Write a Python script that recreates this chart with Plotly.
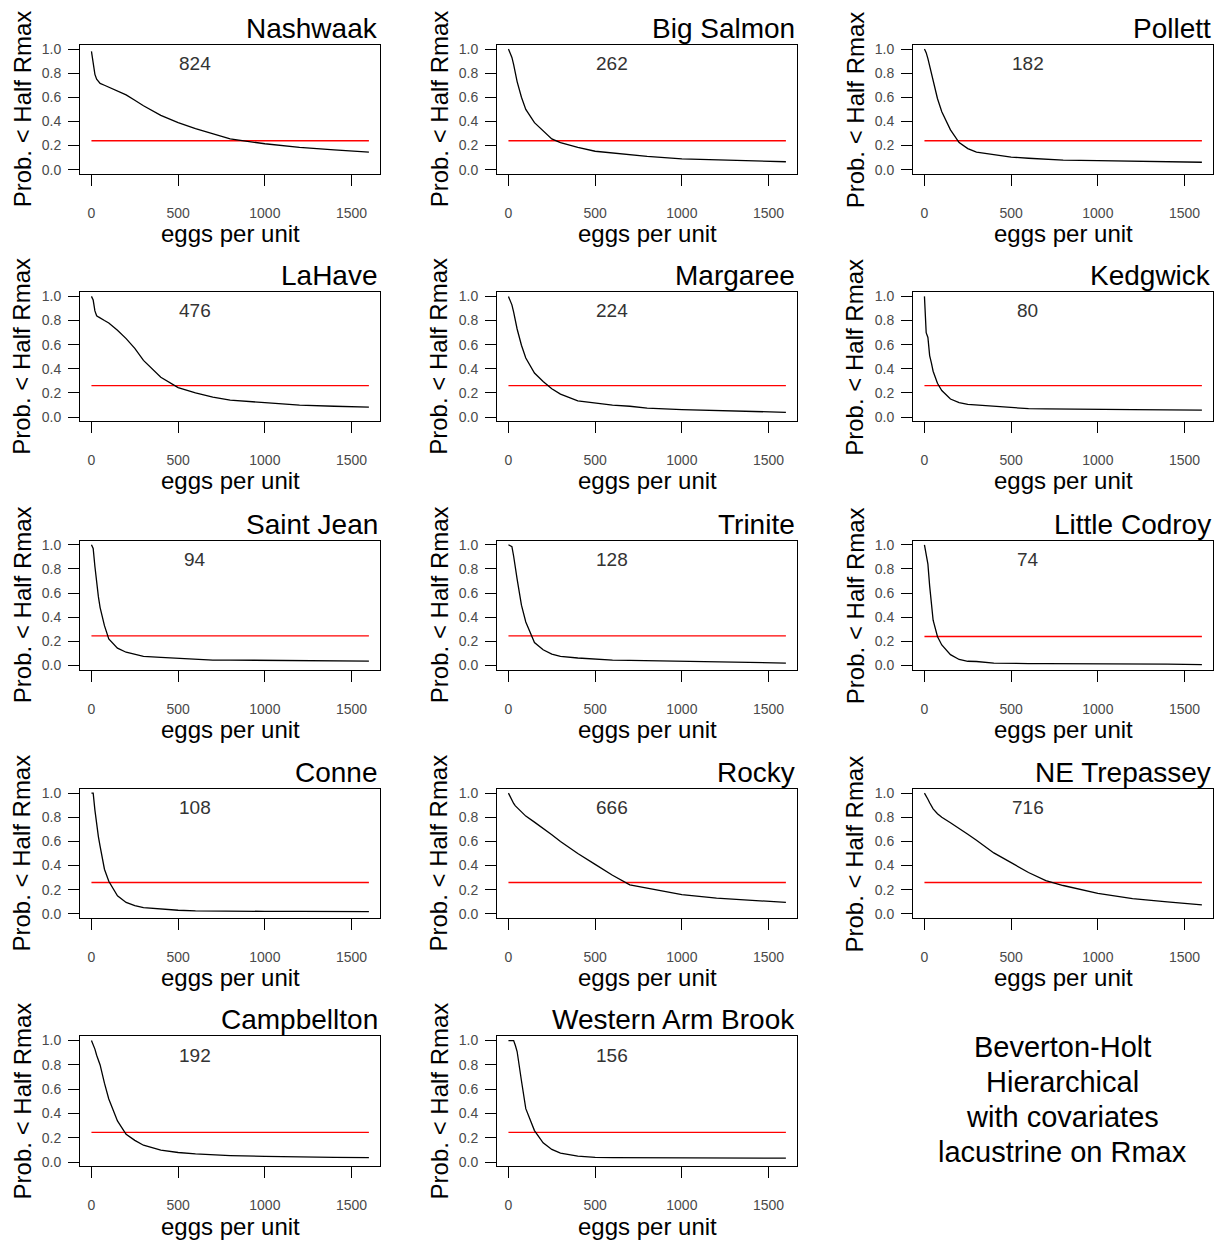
import plotly.graph_objects as go

# ---------------- data ----------------
rivers = ["Nashwaak", "Big Salmon", "Pollett", "LaHave", "Margaree", "Kedgwick",
          "Saint Jean", "Trinite", "Little Codroy", "Conne", "Rocky", "NE Trepassey",
          "Campbellton", "Western Arm Brook"]

crossing_labels = ["824", "262", "182", "476", "224", "80", "94", "128", "74",
                   "108", "666", "716", "192", "156"]

ref_levels = [0.24, 0.24, 0.24, 0.26, 0.26, 0.26, 0.245, 0.245, 0.24,
              0.26, 0.26, 0.26, 0.245, 0.245]

eggs = [0, 10, 20, 30, 40, 50, 75, 100, 150, 200, 250, 300, 400, 500, 600,
        700, 800, 1000, 1200, 1400, 1600]

nashwaak = [0.98, 0.86, 0.79, 0.75, 0.73, 0.715, 0.70, 0.685, 0.655, 0.62, 0.575,
            0.53, 0.45, 0.39, 0.34, 0.30, 0.255, 0.215, 0.185, 0.165, 0.145]
big_salmon = [1.0, 0.97, 0.93, 0.87, 0.79, 0.73, 0.60, 0.50, 0.39, 0.32, 0.255,
              0.225, 0.185, 0.153, 0.137, 0.123, 0.11, 0.09, 0.08, 0.072, 0.066]
pollett = [1.0, 0.97, 0.92, 0.86, 0.80, 0.74, 0.59, 0.48, 0.33, 0.225, 0.175,
           0.145, 0.125, 0.105, 0.095, 0.085, 0.08, 0.075, 0.07, 0.067, 0.062]
lahave = [1.0, 0.97, 0.88, 0.84, 0.83, 0.82, 0.80, 0.78, 0.72, 0.65, 0.57,
          0.47, 0.33, 0.245, 0.20, 0.165, 0.14, 0.12, 0.10, 0.09, 0.082]
margaree = [1.0, 0.97, 0.93, 0.87, 0.79, 0.73, 0.595, 0.49, 0.365, 0.295, 0.235,
            0.19, 0.135, 0.115, 0.10, 0.09, 0.075, 0.062, 0.055, 0.045, 0.04]
kedgwick = [1.0, 0.70, 0.66, 0.51, 0.45, 0.38, 0.28, 0.22, 0.15, 0.12, 0.105,
            0.10, 0.095, 0.085, 0.07, 0.068, 0.068, 0.065, 0.062, 0.06, 0.058]
saint_jean = [1.0, 0.97, 0.82, 0.66, 0.57, 0.48, 0.33, 0.22, 0.144, 0.11, 0.09,
              0.076, 0.068, 0.062, 0.05, 0.045, 0.045, 0.042, 0.04, 0.038, 0.036]
trinite = [1.0, 0.99, 0.985, 0.905, 0.80, 0.715, 0.50, 0.36, 0.19, 0.13, 0.095,
           0.076, 0.062, 0.05, 0.044, 0.042, 0.04, 0.036, 0.033, 0.03, 0.02]
little_codroy = [1.0, 0.905, 0.84, 0.66, 0.525, 0.375, 0.24, 0.17, 0.09, 0.05, 0.035,
                 0.033, 0.02, 0.016, 0.016, 0.015, 0.015, 0.014, 0.013, 0.012, 0.008]
conne = [1.0, 1.0, 0.86, 0.72, 0.64, 0.56, 0.37, 0.27, 0.15, 0.095, 0.068,
         0.052, 0.04, 0.03, 0.025, 0.023, 0.022, 0.021, 0.02, 0.019, 0.018]
rocky = [1.0, 0.97, 0.94, 0.915, 0.895, 0.88, 0.845, 0.81, 0.76, 0.71, 0.655,
         0.60, 0.50, 0.41, 0.32, 0.24, 0.215, 0.16, 0.13, 0.11, 0.095]
ne_trepassey = [1.0, 0.98, 0.95, 0.92, 0.89, 0.87, 0.83, 0.80, 0.755, 0.71, 0.66,
                0.61, 0.505, 0.424, 0.343, 0.275, 0.235, 0.17, 0.127, 0.10, 0.075]
campbellton = [1.0, 0.97, 0.93, 0.88, 0.84, 0.80, 0.65, 0.52, 0.34, 0.23, 0.18,
               0.14, 0.10, 0.08, 0.068, 0.06, 0.055, 0.048, 0.042, 0.04, 0.038]
western_arm_brook = [1.0, 1.0, 1.0, 1.0, 0.96, 0.91, 0.67, 0.44, 0.26, 0.16, 0.105,
                     0.074, 0.05, 0.04, 0.038, 0.037, 0.036, 0.035, 0.034, 0.033, 0.033]

curves = [nashwaak, big_salmon, pollett, lahave, margaree, kedgwick, saint_jean,
          trinite, little_codroy, conne, rocky, ne_trepassey, campbellton,
          western_arm_brook]

x_ticks = [0, 500, 1000, 1500]
y_ticks = [0.0, 0.2, 0.4, 0.6, 0.8, 1.0]
y_tick_text = ["0.0", "0.2", "0.4", "0.6", "0.8", "1.0"]

footer_lines = ["Beverton-Holt", "Hierarchical", "with covariates", "lacustrine on Rmax"]

# ---------------- layout geometry (reference-image pixels) ----------------
PAGE_MARGIN = 8                      # default body margin of the html page
W = 1225 - 2 * PAGE_MARGIN
H = 1252 - 2 * PAGE_MARGIN
cols = [(80, 380), (497, 797), (913, 1213)]
rows = [(41, 171), (290, 420), (540, 670), (790, 920), (1039, 1170)]
FONT = "Arial, Liberation Sans, sans-serif"


def px(x):
    return (x - PAGE_MARGIN) / W


def py(y):
    return 1 - (y - PAGE_MARGIN) / H


fig = go.Figure()
layout = dict(
    width=W, height=H,
    margin=dict(l=0, r=0, t=0, b=0),
    paper_bgcolor="white", plot_bgcolor="white",
    showlegend=False,
    font=dict(family=FONT, color="black"),
)
annotations = []

for i, name in enumerate(rivers):
    r, c = divmod(i, 3)
    sfx = "" if i == 0 else str(i + 1)
    xa, ya = "x" + sfx, "y" + sfx
    x0, x1 = cols[c]
    y0, y1 = rows[r]

    fig.add_trace(go.Scatter(
        x=[eggs[0], eggs[-1]], y=[ref_levels[i], ref_levels[i]],
        xaxis=xa, yaxis=ya, mode="lines",
        line=dict(color="#ff0000", width=1.3), hoverinfo="skip"))
    fig.add_trace(go.Scatter(
        x=eggs, y=curves[i], xaxis=xa, yaxis=ya, mode="lines",
        line=dict(color="black", width=1.3), name=name))

    layout["xaxis" + sfx] = dict(
        domain=[px(x0), px(x1)], anchor=ya, range=[-66, 1664],
        tickvals=x_ticks, ticks="outside", ticklen=11, tickwidth=1, tickcolor="black",
        ticklabelstandoff=15,
        tickfont=dict(size=14, color="#4a4a4a", family=FONT),
        showline=True, linecolor="black", linewidth=1, mirror=True,
        showgrid=False, zeroline=False)
    layout["yaxis" + sfx] = dict(
        domain=[py(y1), py(y0)], anchor=xa, range=[-0.035, 1.035],
        tickvals=y_ticks, ticktext=y_tick_text, ticks="outside", ticklen=11,
        tickwidth=1, tickcolor="black", ticklabelstandoff=4,
        tickfont=dict(size=14, color="#4a4a4a", family=FONT),
        showline=True, linecolor="black", linewidth=1, mirror=True,
        showgrid=False, zeroline=False)

    # panel title
    annotations.append(dict(
        text=name, xref="paper", yref="paper", x=px(x1), y=py(y0),
        xanchor="right", yanchor="bottom", yshift=-1, showarrow=False,
        font=dict(size=28, family=FONT, color="black")))
    # crossing value
    annotations.append(dict(
        text=crossing_labels[i], xref=xa, yref=ya, x=595, y=0.88,
        xanchor="center", yanchor="middle", showarrow=False,
        font=dict(size=19, family=FONT, color="#333333")))
    # y title
    annotations.append(dict(
        text="Prob. < Half Rmax", xref="paper", yref="paper",
        x=px(x0 - 58), y=py((y0 + y1) / 2), xanchor="center", yanchor="middle",
        textangle=-90, showarrow=False,
        font=dict(size=24, family=FONT, color="black")))
    # x title
    annotations.append(dict(
        text="eggs per unit", xref="paper", yref="paper",
        x=px((x0 + x1) / 2), y=py(y1 + 60), xanchor="center", yanchor="middle",
        showarrow=False, font=dict(size=24, family=FONT, color="black")))

# footer text in the empty slot
for k, line in enumerate(footer_lines):
    annotations.append(dict(
        text=line, xref="paper", yref="paper", x=px(1062), y=py(1050 + 35 * k),
        xanchor="center", yanchor="middle", showarrow=False,
        font=dict(size=29, family=FONT, color="black")))

layout["annotations"] = annotations
fig.update_layout(**layout)
fig.write_html("out.html")
